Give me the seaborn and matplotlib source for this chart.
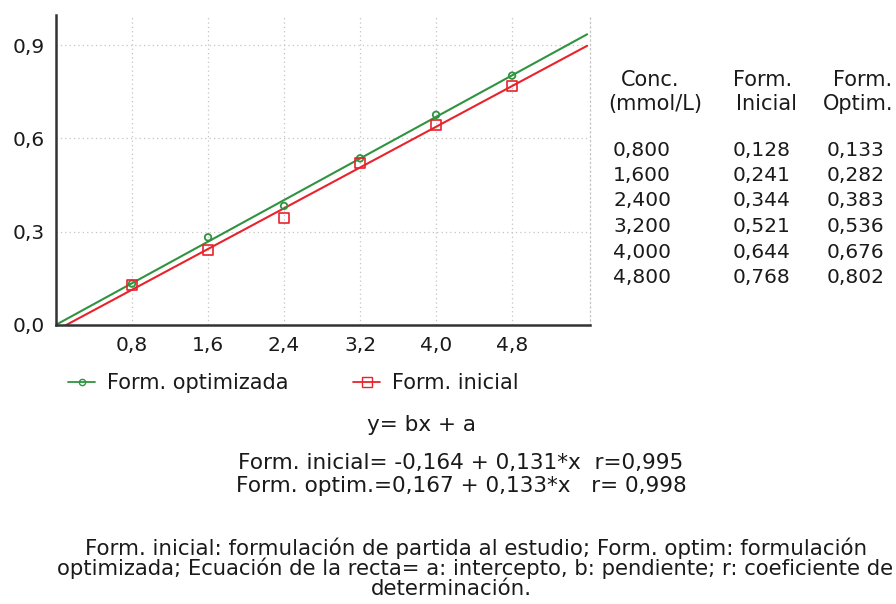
import numpy as np
import pandas as pd
import matplotlib
matplotlib.use("Agg")
import matplotlib.pyplot as plt
import seaborn as sns
from matplotlib.lines import Line2D

conc = [0.8, 1.6, 2.4, 3.2, 4.0, 4.8]
form_inicial = [0.128, 0.241, 0.344, 0.521, 0.644, 0.768]
form_optim = [0.133, 0.282, 0.383, 0.536, 0.676, 0.802]
x_ticks = [0.8, 1.6, 2.4, 3.2, 4.0, 4.8]
y_ticks = [0.0, 0.3, 0.6, 0.9]
table_conc = ["0,800", "1,600", "2,400", "3,200", "4,000", "4,800"]
table_ini = ["0,128", "0,241", "0,344", "0,521", "0,644", "0,768"]
table_opt = ["0,133", "0,282", "0,383", "0,536", "0,676", "0,802"]
legend_labels = ["Form. optimizada", "Form. inicial"]

sns.set_theme(style="white")
plt.rcParams['font.family'] = ['DejaVu Sans']
TXT = "#1a1a1a"
GREEN = "#2f9340"
RED = "#e8232b"
FS_TXT = 15
FS_NUM = 14.5

fig = plt.figure(figsize=(8.96, 6.04), dpi=100)
W, H = 896, 604


def fx(px):
    return px / W


def fy(py):
    return 1 - py / H


ax = fig.add_axes([56 / W, 1 - 325 / H, (590 - 56) / W, (325 - 15) / H])
XMAX, YMAX = 5.62, 0.997
ax.set_xlim(0, XMAX)
ax.set_ylim(0, YMAX)

df = pd.DataFrame({"conc": conc, "ini": form_inicial, "opt": form_optim})
xx = np.linspace(0, 5.59, 50)
for col, color in [("ini", RED), ("opt", GREEN)]:
    b, a = np.polyfit(df["conc"], df[col], 1)
    sns.lineplot(x=xx, y=a + b * xx, color=color, lw=1.5, ax=ax)

sns.scatterplot(data=df, x="conc", y="opt", marker="o", s=22, facecolor="none",
                edgecolor=GREEN, linewidth=1.3, ax=ax, zorder=5)
sns.scatterplot(data=df, x="conc", y="ini", marker="s", s=55, facecolor="none",
                edgecolor=RED, linewidth=1.2, ax=ax, zorder=5)

ax.set_xticks(x_ticks)
ax.set_xticklabels([f"{v:.1f}".replace(".", ",") for v in x_ticks])
ax.set_yticks(y_ticks)
ax.set_yticklabels([f"{v:.1f}".replace(".", ",") for v in y_ticks])
ax.tick_params(axis="both", length=0, labelsize=FS_NUM, colors=TXT, pad=8)
ax.set_xlabel("")
ax.set_ylabel("")
ax.grid(True, color="#c4c4c4", linestyle=(0, (1, 2.5)), linewidth=0.9)
for s in ["left", "bottom"]:
    ax.spines[s].set_color("#333333")
    ax.spines[s].set_linewidth(1.8)
ax.spines["top"].set_visible(False)
ax.spines["right"].set_color("#c4c4c4")
ax.spines["right"].set_linestyle((0, (1, 2.5)))
ax.spines["right"].set_linewidth(0.9)

handles = [
    Line2D([], [], color=GREEN, marker="o", markersize=4.5, markerfacecolor="none", lw=1.3),
    Line2D([], [], color=RED, marker="s", markersize=6.5, markerfacecolor="none", lw=1.3),
]
for h, lab, x0 in zip(handles, legend_labels, [68, 353]):
    fig.legend([h], [lab], frameon=False, loc="center left",
               bbox_to_anchor=(fx(x0), fy(383)), fontsize=FS_TXT,
               handlelength=1.3, handletextpad=0.55, borderpad=0,
               borderaxespad=0, labelcolor=TXT)

# right table headers
fig.text(fx(650), fy(80), "Conc.", ha="center", va="center", fontsize=FS_TXT, color=TXT)
fig.text(fx(655), fy(104), "(mmol/L)", ha="center", va="center", fontsize=FS_TXT, color=TXT)
fig.text(fx(733), fy(80), "Form.", ha="left", va="center", fontsize=FS_TXT, color=TXT)
fig.text(fx(736), fy(104), "Inicial", ha="left", va="center", fontsize=FS_TXT, color=TXT)
fig.text(fx(892), fy(80), "Form.", ha="right", va="center", fontsize=FS_TXT, color=TXT)
fig.text(fx(893), fy(104), "Optim.", ha="right", va="center", fontsize=FS_TXT, color=TXT)

row_y = [150, 175.5, 201, 226.5, 252, 277.5]
for i, yy in enumerate(row_y):
    fig.text(fx(613), fy(yy), table_conc[i], ha="left", va="center", fontsize=FS_NUM, color=TXT)
    fig.text(fx(733), fy(yy), table_ini[i], ha="left", va="center", fontsize=FS_NUM, color=TXT)
    fig.text(fx(827), fy(yy), table_opt[i], ha="left", va="center", fontsize=FS_NUM, color=TXT)

fig.text(fx(421), fy(425), "y= bx + a", ha="center", va="center", fontsize=15.5, color=TXT)
fig.text(fx(461), fy(463), "Form. inicial= -0,164 + 0,131*x  r=0,995", ha="center",
         va="center", fontsize=15.6, color=TXT)
fig.text(fx(461), fy(486), "Form. optim.=0,167 + 0,133*x   r= 0,998", ha="center",
         va="center", fontsize=15.6, color=TXT)

fig.text(fx(476), fy(548),
         "Form. inicial: formulación de partida al estudio; Form. optim: formulación",
         ha="center", va="center", fontsize=15.4, color=TXT)
fig.text(fx(57), fy(568),
         "optimizada; Ecuación de la recta= a: intercepto, b: pendiente; r: coeficiente de",
         ha="left", va="center", fontsize=15.2, color=TXT)
fig.text(fx(451), fy(589), "determinación.", ha="center", va="center", fontsize=15.4, color=TXT)

fig.savefig("out.png", dpi=100)
